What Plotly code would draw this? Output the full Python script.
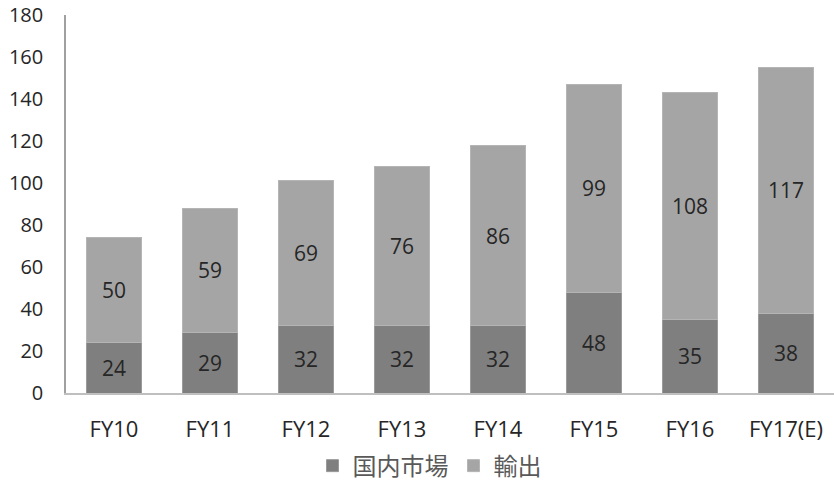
import plotly.graph_objects as go

categories = ["FY10", "FY11", "FY12", "FY13", "FY14", "FY15", "FY16", "FY17(E)"]
domestic = [24, 29, 32, 32, 32, 48, 35, 38]
export = [50, 59, 69, 76, 86, 99, 108, 117]
y_ticks = [0, 20, 40, 60, 80, 100, 120, 140, 160, 180]

font_family = "Open Sans, Liberation Sans, Noto Sans CJK JP, sans-serif"

fig = go.Figure()
fig.add_trace(go.Bar(
    x=categories, y=domestic, name="国内市場",
    marker=dict(color="#7f7f7f", line=dict(color="#9a9a9a", width=1)),
    text=[str(v) for v in domestic], textposition="inside",
    insidetextanchor="middle",
    textfont=dict(size=21, color="#262626", family=font_family),
))
fig.add_trace(go.Bar(
    x=categories, y=export, name="輸出",
    marker=dict(color="#a5a5a5", line=dict(color="#b5b5b5", width=1)),
    text=[str(v) for v in export], textposition="inside",
    insidetextanchor="middle",
    textfont=dict(size=21, color="#262626", family=font_family),
))

fig.update_layout(
    barmode="stack",
    bargap=0.43,
    width=834, height=488,
    margin=dict(l=66, r=0, t=15, b=95),
    plot_bgcolor="white", paper_bgcolor="white",
    font=dict(family=font_family, color="#262626"),
    uniformtext=dict(mode="show", minsize=10),
    legend=dict(
        orientation="h", x=0.515, xref="container", xanchor="center",
        y=0.045, yref="container", yanchor="middle",
        font=dict(size=24, color="#595959",
                  family="Noto Sans CJK JP, sans-serif"),
        itemwidth=30, traceorder="normal",
    ),
    xaxis=dict(
        showline=True, linecolor="#bfbfbf", linewidth=1.5,
        tickfont=dict(size=22, color="#262626"),
        ticks="", ticklabelstandoff=16, automargin=False,
    ),
    yaxis=dict(
        range=[0, 180], tickvals=y_ticks,
        showline=True, linecolor="#a0a0a0", linewidth=1.5,
        showgrid=False, zeroline=False,
        tickfont=dict(size=20, color="#262626"),
        ticks="", ticklabelstandoff=17, automargin=False,
    ),
)

fig.write_html("out.html")
